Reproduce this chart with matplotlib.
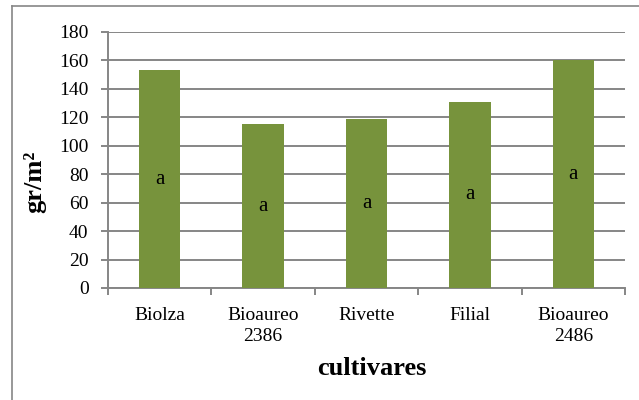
import numpy as np
import matplotlib
matplotlib.use("Agg")
import matplotlib.pyplot as plt
from matplotlib.lines import Line2D

# Data
cultivars = ["Biolza", "Bioaureo\n2386", "Rivette", "Filial", "Bioaureo\n2486"]
biomass = [153, 115, 119, 131, 160]
letters = ["a", "a", "a", "a", "a"]
y_ticks = [0, 20, 40, 60, 80, 100, 120, 140, 160, 180]

plt.rcParams['font.family'] = ['Liberation Serif', 'DejaVu Serif']

W, H = 639, 400
fig = plt.figure(figsize=(W / 100, H / 100), dpi=100)
ax = fig.add_axes([108 / W, (H - 288) / H, (625 - 108) / W, (288 - 32) / H])

gray = "#868686"
x = np.arange(len(cultivars))
bars = ax.bar(x, biomass, width=0.4, color="#77933C", zorder=3)

# letters centred inside the bars
for rect, lab in zip(bars, letters):
    ax.text(rect.get_x() + rect.get_width() / 2, rect.get_height() / 2, lab,
            ha="center", va="center", fontsize=15, zorder=4)

ax.set_xlim(-0.5, len(cultivars) - 0.5)
ax.set_ylim(0, 180)
ax.set_yticks(y_ticks)
ax.yaxis.grid(True, color=gray, linewidth=1.4, zorder=0)
ax.set_axisbelow(True)

ax.set_xticks(x)
ax.set_xticklabels(cultivars, fontsize=14, linespacing=1.25)
ax.set_xticks(np.arange(-0.5, len(cultivars)), minor=True)
ax.tick_params(axis="x", which="major", length=0, pad=14)
ax.tick_params(axis="x", which="minor", length=5, color=gray, width=1.4, direction="out")
ax.tick_params(axis="y", labelsize=14, length=5, color=gray, width=1.4, pad=9)

for side in ["top", "right"]:
    ax.spines[side].set_visible(False)
for side in ["left", "bottom"]:
    ax.spines[side].set_color(gray)
    ax.spines[side].set_linewidth(1.4)

ax.set_ylabel("gr/m²", fontsize=19, fontweight="bold")
ax.yaxis.set_label_coords(-0.12, 0.414)
ax.set_xlabel("cultivares", fontsize=19, fontweight="bold")
ax.xaxis.set_label_coords(0.51, -0.27)

# chart frame (left and top edges visible)
fig.add_artist(Line2D([12 / W, 12 / W], [0, 1 - 6 / H], transform=fig.transFigure,
                      color=gray, linewidth=1.2))
fig.add_artist(Line2D([12 / W, 1], [1 - 6 / H, 1 - 6 / H], transform=fig.transFigure,
                      color=gray, linewidth=1.2))

fig.savefig("out.png", dpi=100)
